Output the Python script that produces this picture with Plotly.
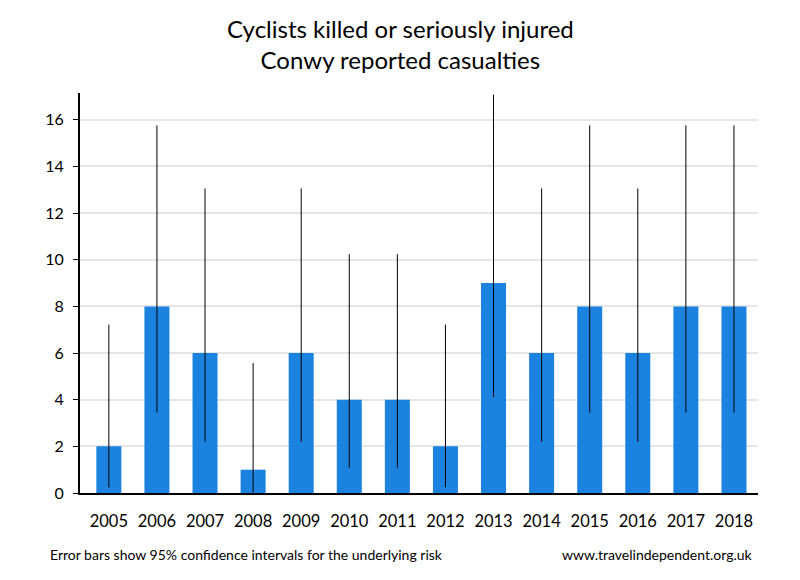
import plotly.graph_objects as go

years = ["2005", "2006", "2007", "2008", "2009", "2010", "2011", "2012",
         "2013", "2014", "2015", "2016", "2017", "2018"]
casualties = [2, 8, 6, 1, 6, 4, 4, 2, 9, 6, 8, 6, 8, 8]
ci_low = [0.24, 3.45, 2.2, 0.03, 2.2, 1.09, 1.09, 0.24, 4.12, 2.2, 3.45, 2.2, 3.45, 3.45]
ci_high = [7.22, 15.76, 13.06, 5.57, 13.06, 10.24, 10.24, 7.22, 17.08, 13.06, 15.76, 13.06, 15.76, 15.76]

err_plus = [h - v for h, v in zip(ci_high, casualties)]
err_minus = [v - l for l, v in zip(ci_low, casualties)]

FONT = "Lato"

fig = go.Figure()
fig.add_trace(go.Bar(
    x=years, y=casualties,
    marker=dict(color="#1b82e0", line=dict(width=0)),
    error_y=dict(type="data", symmetric=False, array=err_plus, arrayminus=err_minus,
                 color="black", thickness=1, width=0),
))

fig.update_layout(
    width=800, height=580,
    paper_bgcolor="white", plot_bgcolor="white",
    margin=dict(l=72, r=50, t=85, b=95),
    bargap=0.48,
    showlegend=False,
    font=dict(family=FONT, color="black"),
    xaxis=dict(
        type="category", range=[-0.6, 13.5],
        showline=True, linecolor="black", linewidth=2,
        ticks="", showgrid=False, ticklabelstandoff=12,
        tickfont=dict(family=FONT, size=16.5, color="black"),
    ),
    yaxis=dict(
        range=[0, 17.15], dtick=2, tick0=0,
        showline=True, linecolor="black", linewidth=2,
        ticks="outside", ticklen=5, tickcolor="black", tickwidth=1,
        ticklabelstandoff=6,
        showgrid=True, gridcolor="#e6e6e6", gridwidth=1.5,
        zeroline=False,
        tickfont=dict(family=FONT, size=16, color="black"),
    ),
    annotations=[
        dict(text="Cyclists killed or seriously injured<br>Conwy reported casualties",
             xref="paper", yref="paper", x=0.472, y=1.122, xanchor="center", yanchor="middle",
             showarrow=False, align="center",
             font=dict(family=FONT, size=24, color="black")),
        dict(text="Error bars show 95% confidence intervals for the underlying risk",
             xref="paper", yref="paper", x=-0.0472, y=-0.1525, xanchor="left", yanchor="middle",
             showarrow=False, font=dict(family=FONT, size=14, color="black")),
        dict(text="www.travelindependent.org.uk",
             xref="paper", yref="paper", x=0.9956, y=-0.1525, xanchor="right", yanchor="middle",
             showarrow=False, font=dict(family=FONT, size=14, color="black")),
    ],
)

fig.write_html("out.html")
